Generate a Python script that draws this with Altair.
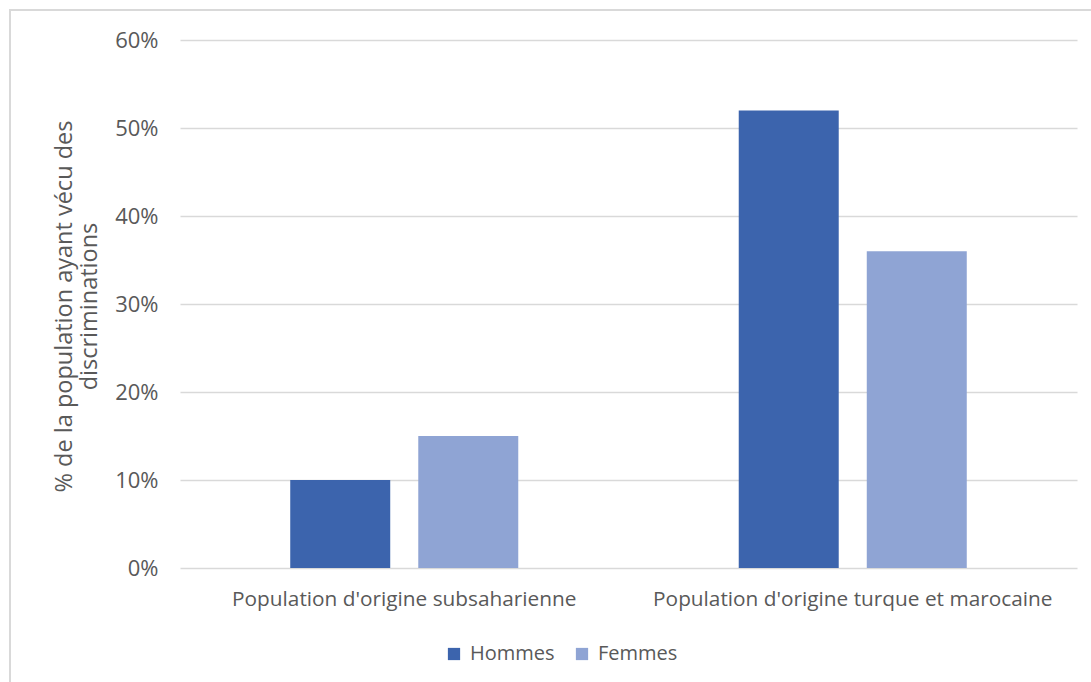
import altair as alt
import pandas as pd

# Share of each population reporting discrimination, by sex
categories = ["Population d'origine subsaharienne", "Population d'origine turque et marocaine"]
series = ["Hommes", "Femmes"]
hommes = [0.10, 0.52]
femmes = [0.15, 0.36]
colors = ["#3C64AD", "#8FA4D4"]

rows = []
for i, cat in enumerate(categories):
    rows.append({"groupe": cat, "sexe": "Hommes", "part": hommes[i]})
    rows.append({"groupe": cat, "sexe": "Femmes", "part": femmes[i]})
df = pd.DataFrame(rows)

FONT = "Open Sans"
TEXT = "#595959"

bars = alt.Chart(df).mark_bar().encode(
    x=alt.X(
        "groupe:N",
        sort=categories,
        scale=alt.Scale(paddingInner=0, paddingOuter=0),
        axis=alt.Axis(
            title=None, labelAngle=0, ticks=False, domain=False,
            labelFontSize=20.8, labelColor=TEXT, labelFont=FONT, labelPadding=21,
            labelLimit=1000,
        ),
    ),
    xOffset=alt.XOffset(
        "sexe:N", sort=series,
        scale=alt.Scale(paddingInner=0.219, paddingOuter=0.861),
    ),
    y=alt.Y(
        "part:Q",
        scale=alt.Scale(domain=[0, 0.6], nice=False),
        axis=alt.Axis(
            format=".0%", values=[0, 0.1, 0.2, 0.3, 0.4, 0.5, 0.6],
            title=["% de la population ayant vécu des", "discriminations"],
            titleFontSize=23.5, titleFont=FONT, titleColor=TEXT, titleFontWeight="normal",
            titleX=-128, titleY=266, titleAlign="center", titleBaseline="top",
            titleLineHeight=25,
            labelFontSize=22, labelColor=TEXT, labelFont=FONT, labelPadding=22,
            ticks=False, domain=False,
            grid=True, gridColor="#D9D9D9", gridWidth=1.3,
        ),
    ),
    color=alt.Color(
        "sexe:N", sort=series,
        scale=alt.Scale(domain=series, range=colors),
        legend=alt.Legend(
            title=None, orient="none", direction="horizontal",
            legendX=264, legendY=604,
            symbolType="square", symbolSize=150, symbolStrokeWidth=0,
            labelFontSize=20, labelColor=TEXT, labelFont=FONT,
            labelOffset=6, columnPadding=17,
        ),
    ),
)

# Light frame around the chart area
frame = alt.Chart(alt.Data(values=[{}])).mark_rect(
    fill=None, stroke="#D9D9D9", strokeWidth=2, clip=False
).encode(
    x=alt.value(-170), x2=alt.value(930),
    y=alt.value(-30), y2=alt.value(700),
)

chart = alt.layer(frame, bars).properties(
    width=897, height=528,
    autosize=alt.AutoSizeParams(type="none"),
    padding={"left": 180, "top": 40, "right": 14, "bottom": 114},
    background="white",
).configure_view(stroke=None)

chart.save("out.html", embed_options={"renderer": "svg", "actions": False})
